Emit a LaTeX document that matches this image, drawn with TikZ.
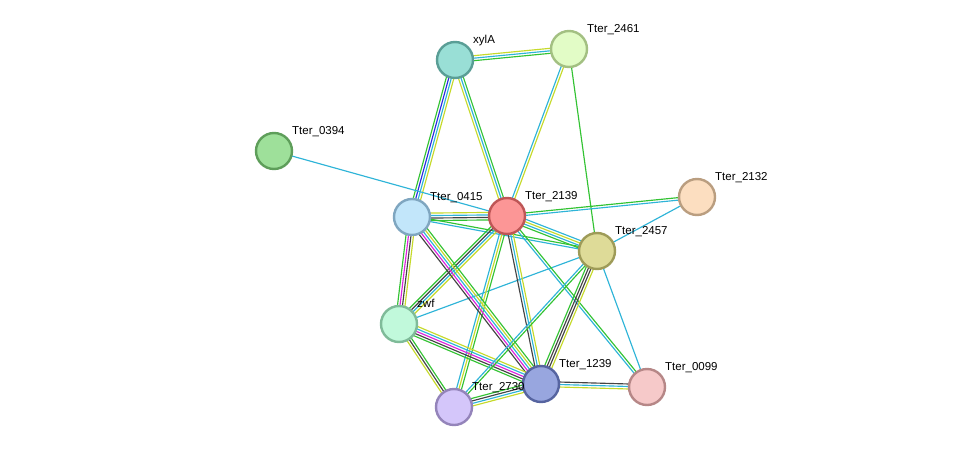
\documentclass[tikz,border=0pt]{standalone}
\usepackage{fontspec}
\setmainfont{Liberation Sans}
\usetikzlibrary{calc,backgrounds}
\definecolor{eg}{HTML}{33C333}
\definecolor{ec}{HTML}{2EB4D8}
\definecolor{ey}{HTML}{C6DA2A}
\definecolor{ek}{HTML}{444444}
\definecolor{em}{HTML}{DD22DD}
\definecolor{eb}{HTML}{2A2AE0}
\definecolor{fxylA}{HTML}{99DFD6}\definecolor{dxylA}{HTML}{5A9E96}
\definecolor{f2461}{HTML}{E2FCC6}\definecolor{d2461}{HTML}{A3C082}
\definecolor{f0394}{HTML}{9EE09A}\definecolor{d0394}{HTML}{5E9E5A}
\definecolor{f2132}{HTML}{FCDEC0}\definecolor{d2132}{HTML}{BA9E80}
\definecolor{f0415}{HTML}{C2E6FA}\definecolor{d0415}{HTML}{7FA6C0}
\definecolor{f2139}{HTML}{FC9696}\definecolor{d2139}{HTML}{BE5656}
\definecolor{f2457}{HTML}{DEDB98}\definecolor{d2457}{HTML}{9E9B58}
\definecolor{fzwf}{HTML}{C1F9DB}\definecolor{dzwf}{HTML}{7FBB99}
\definecolor{f2730}{HTML}{D4C6FA}\definecolor{d2730}{HTML}{9484BA}
\definecolor{f1239}{HTML}{98A6DF}\definecolor{d1239}{HTML}{5664A0}
\definecolor{f0099}{HTML}{F6C9C9}\definecolor{d0099}{HTML}{B68787}
\newcommand\edgelines[3]{%
  \foreach \cc [count=\n] in {#3} {\xdef\ncount{\n}}%
  \foreach \cc [count=\i] in {#3} {%
    \pgfmathsetmacro\off{(\i-(\ncount+1)/2)*2.5}%
    \draw[\cc, line width=1.15pt] ($(#1.center)!\off pt!90:(#2.center)$) -- ($(#2.center)!\off pt!-90:(#1.center)$);
  }}
\tikzset{
  prot/.style={circle, minimum size=36pt, inner sep=0pt, line width=2.4pt, fill=f#1, draw=d#1},
  lab/.style={anchor=base west, font=\fontsize{11.5}{13}\selectfont, text=black, inner sep=0pt}
}
\begin{document}
\begin{tikzpicture}[x=1pt,y=-1pt]
\useasboundingbox (0,0) rectangle (975,453);
% nodes
\node[prot=xylA] (xylA) at (455,60) {};
\node[prot=2461] (t2461) at (569,49) {};
\node[prot=0394] (t0394) at (274,151) {};
\node[prot=2132] (t2132) at (697,197) {};
\node[prot=0415] (t0415) at (412,217) {};
\node[prot=2139] (t2139) at (507,216) {};
\node[prot=2457] (t2457) at (597,251) {};
\node[prot=zwf] (zwf) at (399,324) {};
\node[prot=2730] (t2730) at (454,407) {};
\node[prot=1239] (t1239) at (541,384) {};
\node[prot=0099] (t0099) at (647,387) {};
% labels
\node[lab] (lxylA) at (473,43) {xylA};
\node[lab] (l2461) at (587,32) {Tter\_2461};
\node[lab] (l0394) at (292,134) {Tter\_0394};
\node[lab] (l2132) at (715,180) {Tter\_2132};
\node[lab] (l0415) at (430,200) {Tter\_0415};
\node[lab] (l2139) at (525,199) {Tter\_2139};
\node[lab] (l2457) at (615,234) {Tter\_2457};
\node[lab] (lzwf) at (417,307) {zwf};
\node[lab] (l2730) at (472,390) {Tter\_2730};
\node[lab] (l1239) at (559,367) {Tter\_1239};
\node[lab] (l0099) at (665,370) {Tter\_0099};
% edges
\begin{scope}[on background layer]
\fill[white] (0,0) rectangle (975,453);
\edgelines{xylA}{t2461}{eg,ec,ey}
\edgelines{xylA}{t0415}{eg,eb,ec,ey}
\edgelines{xylA}{t2139}{ey,ec,eg}
\edgelines{t2461}{t2139}{ec,ey}
\edgelines{t2461}{t2457}{eg}
\edgelines{t0394}{t2139}{ec}
\edgelines{t0415}{t2139}{eg,ek,ec,ey}
\edgelines{t0415}{t2457}{ec,eg}
\edgelines{t2139}{t2132}{ec,eg}
\edgelines{t2457}{t2132}{ec}
\edgelines{zwf}{t2457}{ec}
\edgelines{t2139}{t2457}{eg,ec,ey,ec}
\edgelines{t2139}{zwf}{eg,ek,ec,ey}
\edgelines{t2139}{t2730}{ec,ey,eg}
\edgelines{t2139}{t1239}{ek,ec,ey}
\edgelines{t2139}{t0099}{ec,eg}
\edgelines{t0415}{zwf}{eg,em,ek,ey}
\edgelines{t0415}{t1239}{ek,em,ec,ey,eg}
\edgelines{zwf}{t1239}{eg,ek,em,ec,ey}
\edgelines{zwf}{t2730}{ey,ek,eg}
\edgelines{t2730}{t1239}{ey,ec,ek,eg}
\edgelines{t1239}{t0099}{ey,ec,ek}
\edgelines{t2457}{t1239}{eg,ek,ek,ey}
\edgelines{t2457}{t2730}{ec,eg}
\edgelines{t2457}{t0099}{ec}
\end{scope}
\end{tikzpicture}
\end{document}
